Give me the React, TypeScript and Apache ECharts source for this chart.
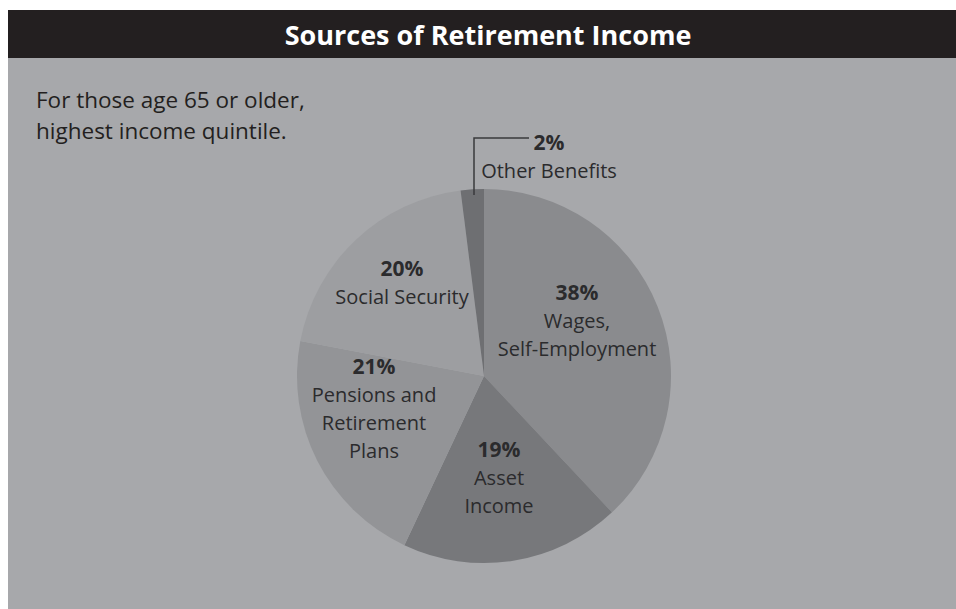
import React, { useEffect, useRef } from "react";
import * as echarts from "echarts";

const title = "Sources of Retirement Income";
const subtitleLines = ["For those age 65 or older,", "highest income quintile."];
const categories = [
  "Wages,\nSelf-Employment",
  "Asset\nIncome",
  "Pensions and\nRetirement\nPlans",
  "Social Security",
  "Other Benefits",
];
const values = [38, 19, 21, 20, 2];
const sliceColors = ["#8a8b8e", "#77787b", "#939497", "#9d9ea1", "#6e6f72"];
const labelPositions: [number, number][] = [
  [569, 312],
  [491, 469],
  [366, 400],
  [394, 274],
  [541, 148],
];

const FONT = "'Open Sans', 'Noto Sans', sans-serif";

export default function App() {
  const ref = useRef<HTMLDivElement>(null);
  useEffect(() => {
    if (!ref.current) return;
    const chart = echarts.init(ref.current, undefined, { renderer: "svg" });
    chart.setOption({
      animation: false,
      backgroundColor: "#ffffff",
      graphic: [
        { type: "rect", shape: { x: 0, y: 2, width: 948, height: 48 }, style: { fill: "#231f20" }, z: 0 },
        { type: "rect", shape: { x: 0, y: 50, width: 948, height: 551 }, style: { fill: "#a7a8ab" }, z: 0 },
        {
          type: "text",
          x: 480,
          y: 26,
          z: 10,
          style: {
            text: title,
            fill: "#ffffff",
            font: `bold 27px ${FONT}`,
            align: "center",
            verticalAlign: "middle",
          },
        },
        {
          type: "text",
          x: 28,
          y: 107,
          z: 10,
          style: {
            text: subtitleLines.join("\n"),
            fill: "#231f20",
            font: `22.5px ${FONT}`,
            lineHeight: 31,
            align: "left",
            verticalAlign: "middle",
          },
        },
        {
          type: "polyline",
          z: 10,
          shape: { points: [[466, 187], [466, 130], [521, 130]] },
          style: { stroke: "#3a3a3c", lineWidth: 1.5, fill: "none" },
        },
      ],
      series: [
        {
          type: "pie",
          center: [476, 368],
          radius: [0, 187],
          startAngle: 90,
          clockwise: true,
          silent: true,
          z: 5,
          data: categories.map((c, i) => ({
            name: c,
            value: values[i],
            itemStyle: { color: sliceColors[i] },
          })),
          label: {
            show: true,
            position: "inside",
            formatter: (p: any) => {
              const lines = String(p.name).split("\n").map((l) => `{n|${l}}`);
              return [`{b|${p.value}%}`, ...lines].join("\n");
            },
            rich: {
              b: { fontFamily: FONT, fontSize: 21, fontWeight: "bold", color: "#2b2b2d", lineHeight: 28, align: "center" },
              n: { fontFamily: FONT, fontSize: 20, color: "#2b2b2d", lineHeight: 28, align: "center" },
            },
          },
          labelLine: { show: false },
          labelLayout: (params: any) => ({
            x: labelPositions[params.dataIndex][0],
            y: labelPositions[params.dataIndex][1],
            align: "center",
            verticalAlign: "middle",
          }),
        },
      ],
    });
    return () => chart.dispose();
  }, []);
  return (
    <div
      ref={ref}
      style={{ position: "absolute", left: 8, top: 8, width: 948, height: 601 }}
    />
  );
}
